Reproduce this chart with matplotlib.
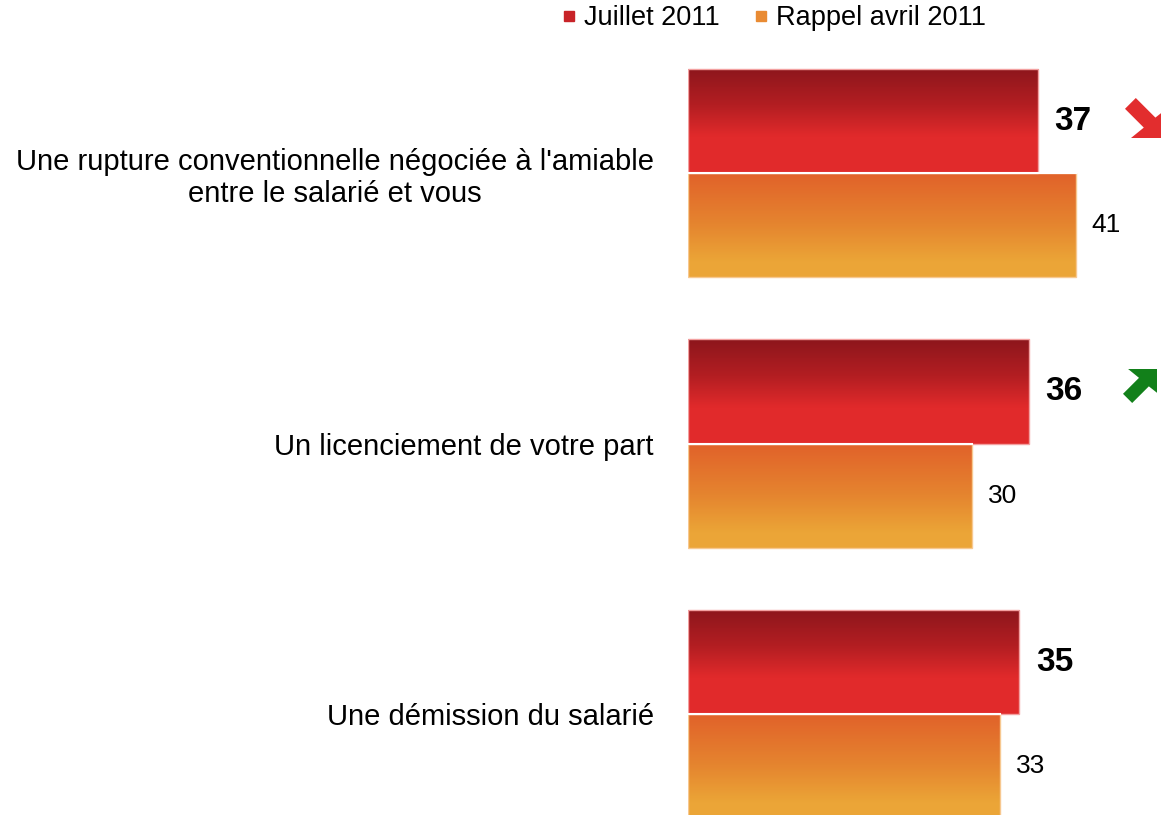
import numpy as np
import matplotlib
matplotlib.use("Agg")
import matplotlib.pyplot as plt
from matplotlib.colors import LinearSegmentedColormap
from matplotlib.patches import Polygon
from matplotlib.lines import Line2D

plt.rcParams['font.family'] = ['Liberation Sans', 'DejaVu Sans']

categories = ["Une rupture conventionnelle négociée à l'amiable\nentre le salarié et vous",
              "Un licenciement de votre part",
              "Une démission du salarié"]
juillet_2011 = [37, 36, 35]
avril_2011 = [41, 30, 33]
series_names = ["Juillet 2011", "Rappel avril 2011"]
trends = ["down", "up", None]

W, H = 1161, 815
fig = plt.figure(figsize=(W / 100, H / 100), dpi=100)
ax = fig.add_axes([688 / W, 0, (W - 688) / W, 1])
for s in ax.spines.values():
    s.set_visible(False)
ax.set_xticks([])

y = np.arange(len(categories))
h = 0.385

red_cmap = LinearSegmentedColormap.from_list(
    "red", [(0, "#8d161c"), (0.35, "#b31e22"), (0.65, "#e12a2b"), (1, "#e22b2c")])
orange_cmap = LinearSegmentedColormap.from_list(
    "orange", [(0, "#e1612a"), (0.5, "#e5852f"), (0.85, "#eba537"), (1, "#eca638")])

bars_j = ax.barh(y - h / 2, juillet_2011, height=h, color="none",
                 edgecolor="#f3a0a0", linewidth=1.0, zorder=3)
bars_a = ax.barh(y + h / 2, avril_2011, height=h, color="none",
                 edgecolor="#f7c890", linewidth=1.0, zorder=3)

grad = np.linspace(0, 1, 256).reshape(-1, 1)
for bars, cmap in ((bars_j, red_cmap), (bars_a, orange_cmap)):
    for b in bars:
        x0, yb = b.get_x(), b.get_y()
        w_, hh = b.get_width(), b.get_height()
        im = ax.imshow(grad, cmap=cmap, aspect="auto",
                       extent=(x0, x0 + w_, yb + hh, yb), origin="upper",
                       interpolation="bilinear", zorder=2)
        im.set_clip_path(b)

for b in bars_a:
    ax.plot([0, b.get_width()], [b.get_y(), b.get_y()], color="white", lw=1.5, zorder=4)

ax.set_xlim(0, 50)
ax.set_ylim(2.373, -0.640)

ax.set_yticks(y)
ax.set_yticklabels(categories, fontsize=21, multialignment="center", linespacing=1.17)
ax.tick_params(axis="y", length=0, pad=24.5)

for b, v in zip(bars_j, juillet_2011):
    ax.annotate(str(v), (v, b.get_y() + b.get_height() / 2), xytext=(12, 0),
                textcoords="offset points", va="center", ha="left",
                fontsize=24, fontweight="bold", color="black")
for b, v in zip(bars_a, avril_2011):
    ax.annotate(str(v), (v, b.get_y() + b.get_height() / 2), xytext=(11.5, 0),
                textcoords="offset points", va="center", ha="left",
                fontsize=19, color="black")

# trend arrows: up-right shape in a unit box (y up)
base = np.array([(1, 1), (0.15, 1), (0.47, 0.74), (0.0, 0.27), (0.27, 0.0),
                 (0.76, 0.49), (1, 0.30)])
arrow_pos = {0: (1125, 98, 40, "#e22d2e"), 1: (1123, 369, 34, "#12801a")}
for i, t in enumerate(trends):
    if t is None:
        continue
    px, py, size, col = arrow_pos[i]
    pts = base.copy()
    if t == "down":
        pts[:, 1] = 1 - pts[:, 1]
    xs = px + pts[:, 0] * size
    ys = H - (py + (1 - pts[:, 1]) * size)
    poly = Polygon(np.column_stack([xs, ys]), closed=True, facecolor=col,
                   edgecolor="none", transform=None, zorder=5)
    fig.patches.append(poly)

handles = [Line2D([], [], marker="s", linestyle="none", markersize=7.5,
                  markerfacecolor="#c82328", markeredgecolor="#c82328"),
           Line2D([], [], marker="s", linestyle="none", markersize=7.5,
                  markerfacecolor="#e98b33", markeredgecolor="#e98b33")]
fig.legend(handles, series_names, loc="center", bbox_to_anchor=(774 / W, 1 - 18 / H),
           ncol=2, frameon=False, fontsize=19.5, handlelength=0.5, handletextpad=0.3,
           columnspacing=1.3, borderpad=0)

fig.savefig("out.png", dpi=100)
